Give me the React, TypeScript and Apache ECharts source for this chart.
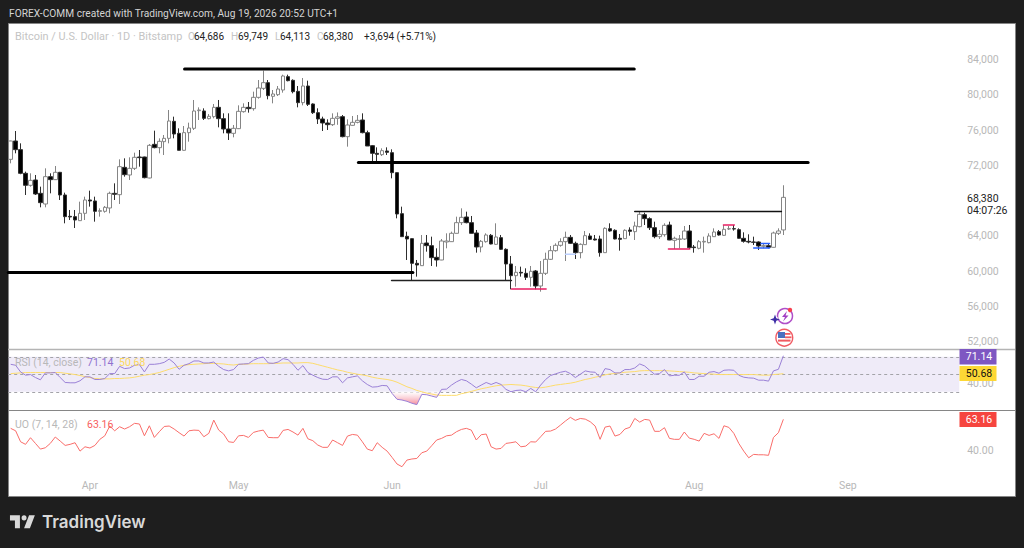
import React, { useEffect, useRef } from "react";
import * as echarts from "echarts";

const candleOpen = [72688,74765,73783,71102,69742,70346,68835,67627,70724,70384,71215,68647,66230,66192,65738,66569,68080,67966,66796,66796,67174,68835,68684,71781,70913,71668,72953,72953,70573,74387,74010,74690,75067,76994,75634,73708,75710,76201,78202,78165,77296,77522,78580,77296,76125,75634,76163,78089,78580,78429,79713,80733,81375,79827,80015,80544,82055,81640,80393,79109,80997,78958,77976,77258,76805,76616,77334,77522,75256,76540,76880,77145,75709,74236,73367,73216,73632,73443,71177,66531,63963,63699,60903,60639,63207,62905,61583,61281,63320,63358,64303,65511,66154,65511,64341,62754,63358,64076,63056,63811,62490,60828,59506,59884,59770,59317,60035,58335,59770,61357,62339,62943,63358,63849,63169,62112,63019,64000,63661,63661,62112,64831,64642,63736,63698,64680,64491,65058,66418,65965,64945,63925,64152,65247,63510,63623,63661,64567,62754,62603,63320,63245,63925,64491,64076,64794,64831,64718,63736,63396,63320,63320,62830,62905,62717,64303,64686];
const candleClose = [74765,73783,71102,69742,70308,68760,67778,70724,70384,71215,68647,66192,66155,65814,66569,68080,67966,66796,66871,67249,68835,68722,71857,70951,71668,72915,72877,70611,74274,74010,74728,75067,77031,75558,73708,75710,76238,78165,78278,77334,77560,78580,77296,76125,75672,76201,78127,78580,78429,79713,80771,81375,79902,80091,80657,82130,81602,80355,79109,80997,78920,77976,77258,76805,76616,77334,77500,75256,76578,76880,77107,75709,74198,73367,73254,73670,73481,71177,66493,63925,63661,60903,60714,63169,62905,61545,61281,63434,63434,64303,65511,66116,65511,64303,62754,63396,64114,63094,63887,62490,60828,59506,59884,59808,59317,59997,58335,59770,61357,62339,62943,63358,63849,63169,62112,63056,64038,63623,63547,62112,64869,64567,63661,63623,64642,64530,65134,66456,65965,64945,63925,64190,65209,63547,63736,63661,64567,62679,62679,63358,63396,64000,64454,64114,64756,64831,64794,63736,63396,63320,63283,62867,62905,62717,64340,64567,68380];
const candleHigh = [74800,75898,74501,71290,71102,70913,69591,71668,71102,71933,71260,68911,66947,66947,67891,68458,69138,68458,67136,67400,69024,69968,72688,72801,72915,73443,73745,72990,74425,75936,75067,75445,78278,77522,76201,76465,76843,79411,78580,78467,77825,78958,79411,77900,77900,76578,78807,79033,79184,80355,81677,82735,81677,80544,80997,82282,82282,81753,80997,81904,81602,79033,78467,77522,77220,77900,78000,77711,77220,77598,77711,77900,75936,74312,74047,73934,74047,73821,71200,67324,64491,63720,61281,64114,64114,63925,62603,63661,64303,64491,66191,67135,66758,66267,64680,63547,64303,64227,65436,64114,62603,61734,60601,60526,60337,60601,60148,61168,62112,62867,63169,63736,64491,64114,63358,63170,64567,64303,64114,64038,64983,65436,64756,64227,64756,64983,65625,66758,66644,66116,65625,64680,65436,65625,63925,64114,65134,65247,62981,63547,63925,64303,64869,64680,65247,65134,65247,64869,64416,64190,63925,63396,63094,63094,64491,64869,69749];
const candleLow = [72235,73368,71000,68647,69591,68647,67249,67249,68835,70346,68080,65436,65814,64907,65700,65814,67325,65625,66192,66645,66569,68080,67627,70724,70346,71479,71857,70535,70535,73934,73368,73179,74501,75067,73700,73670,74690,76012,77145,77145,77220,77334,76314,75634,74879,75181,76120,77976,77976,78202,79562,80544,79487,79033,79864,80242,81526,80166,78580,78807,78731,77825,76692,75898,76012,76465,76600,75180,74123,76500,76767,75634,74198,72423,72423,73065,73179,70535,66002,63900,61281,59015,59393,60600,62225,60601,60526,61260,62603,63340,64290,65247,65436,64290,62112,62150,63245,63056,62981,62414,59015,57957,58259,59393,59015,58259,57957,57693,59582,61281,62225,62792,61168,63094,61394,61470,62981,63547,63500,61659,62100,64491,63623,62339,63680,64038,63547,64983,65247,64680,63736,63661,63925,63530,62528,62603,63547,62528,62112,62490,62112,63170,63900,64038,64000,64680,64605,63698,63245,63170,62981,62414,62603,62603,62679,64114,64113];

const rsiValues = [61.4,60.3,52.7,49,49.7,46.3,43.7,51.6,51.6,52,46.3,40.7,40.3,40.3,42.6,47.1,47.1,44.1,44.1,45.2,50.8,50.8,59.1,56.5,57.2,60.3,61,52.7,61.4,61.4,62.1,63.6,67.4,62.9,55.7,60.3,62.1,65.2,65.2,62.9,62.9,64,59.1,55.4,53.9,55.4,61.4,61.8,62.1,65.9,68.5,69.7,62.9,62.5,64,67.8,66.7,61.4,54.6,59.9,52,49,46.3,44.4,44.1,47.1,47.1,40.3,45.9,47.1,48.2,42.6,38.4,35.4,35.8,37.3,36.9,28.2,21.5,20.7,19.2,17,15.4,27.1,26.7,25.2,23.7,32.8,33.1,37.7,41.4,44.1,42.6,38.8,34.6,37.7,40.7,38.4,40.7,38.4,32.8,30.1,31.6,32,30.1,33.9,30.1,37.7,44.1,48.6,50.5,52.3,53.5,50.8,46.3,50.1,53.9,52.7,52.3,46.3,56.5,55.4,51.6,51.6,55.4,55.4,57.2,61.8,59.5,54.6,50.1,50.8,55.4,48.2,48.9,48.9,52.7,44.1,44.1,47.8,47.8,52.3,53.1,51.2,54.6,55,54.6,48.9,46.7,45.9,45.6,43.3,43.3,42.2,53.9,55.7,71.14];
const rsiAverage = [50.8,51.2,51.6,52,52,52,52,52,52,52,52,51.2,50.5,49.7,48.6,47.4,46.3,45.2,44.8,44.8,44.8,45.2,45.2,45.6,45.9,46.7,47.8,49,49.7,50.8,52,53.9,55.7,57.6,59.1,60.3,61,61.4,61.8,62.1,62.5,62.5,62.1,61.8,61,60.6,61.4,61.4,61.8,62.1,62.1,62.1,62.1,62.5,62.5,62.9,62.9,62.9,62.9,63.3,63.3,62.5,61,59.5,58,56.5,55,53.9,52.3,51.2,50.1,49.3,48.2,46.7,45.6,44.8,44.1,42.9,41,38.4,35.8,33.9,31.6,30.1,28.6,27.5,26.4,26,26,26,26,27.9,29,30.5,32,33.5,34.6,35.8,36.9,37.7,38,38.4,38,37.7,36.9,35.8,35,34.6,35.4,36.5,37.7,38.4,39.2,39.9,41,42.6,44.1,45.2,46.7,47.8,49.3,50.5,50.8,51.6,52.3,52.7,53.1,53.9,54.2,54.2,54.2,54.2,54.2,53.9,53.5,53.1,52.7,52.3,51.6,51.2,50.8,50.5,50.1,49.7,49.7,49.7,49.7,49.7,49.7,49.7,49.7,49.3,49,49,49.7,50.1,50.68];
const uoValues = [56.5,54.7,46.6,44.7,49.6,45.4,41.2,42.2,45.4,50.1,47.1,43.9,44.7,45.9,39.7,42.9,42,43.9,48.4,51,58.2,54.7,57.7,56,57.7,60.2,59.7,51,58.4,49.8,54,57.9,58.2,56,53.3,50.8,54.7,55.2,55,50.3,52.8,62.6,55.2,52.3,46.6,46.1,51,51.3,49.8,53.5,54.5,55.2,49.8,49.6,49.6,55,55.7,53.8,51.5,56.5,48.8,47.4,44.2,42.5,42.5,47.9,45.9,43.9,50.8,52,51.5,46.6,41.2,40,45.9,42.5,39.7,35.1,30.2,28.2,33.1,33.9,34.3,38.5,39.7,43.7,47.9,49.1,51,51.5,54,55.7,56.5,55.2,47.9,51.8,52.3,42.9,41.2,41.7,45.4,45.9,46.6,42.9,43.4,46.6,46.4,50.3,54.3,54.5,56,58.9,61.9,64.6,62.4,63.8,63.3,61.4,58.2,48.4,57.4,58.2,50.8,52,56,57.2,63.8,61.1,63.1,62.6,54.3,54.3,57,49.1,48.4,48.4,53.8,49.3,48.4,47.1,52.8,51.3,52.5,49.1,58.4,57.2,52.8,45.4,39.7,34.8,37.3,37,37,36.6,49.8,53.3,63.16];

const priceTicks = [52000,56000,60000,64000,72000,76000,80000,84000];
const monthNames = ["Jan","Feb","Mar","Apr","May","Jun","Jul","Aug","Sep"];
const segStart = [35.1,70.2,-0.5,76.9,101.1,126,132.8,143.9,150,151.5,112];
const segEnd = [125.9,161,81.2,101.1,108.1,155.6,137.1,146.1,153.2,153.2,114];
const segPrice = [82923,72329,59864,58957,57994,66776,62527,65247,62640,63150,61927];
const segColor = ["#000","#000","#000","#222","#e91e63","#111","#e91e63","#e91e63","#2962ff","#2962ff","#bbd0ff"];
const segWidth = [3,3,3,1.5,1.5,1.5,1.5,1.5,1.5,1.5,1.5];

const BAND_COUNT = 192;
const LEFT = 8.2;
const W = 951;
const FONT = "Roboto, sans-serif";
const LOGO_D = "M14 6H2v6h6v9h6V6Zm12 15h-7l6-15h7l-6 15Zm-7-9a3 3 0 1 0 0-6 3 3 0 0 0 0 6Z";

echarts.graphic.registerShape("tvlogo", echarts.graphic.extendPath(LOGO_D as any, {}) as any);

function dateCategories(): string[] {
  const out: string[] = [];
  const d = new Date(Date.UTC(2026, 2, 16));
  for (let i = 0; i < BAND_COUNT; i++) {
    out.push(d.toISOString().slice(0, 10));
    d.setUTCDate(d.getUTCDate() + 1);
  }
  return out;
}

function txt(x: number, y: number, text: string, fill: string, size = 10, align = "left", extra: any = {}) {
  return { type: "text", x, y, z: 100, style: { text, fill, font: `${extra.weight || "normal"} ${size}px ${extra.family || FONT}`, textAlign: align, textVerticalAlign: "middle" } };
}
function tag(y0: number, y1: number, fill: string, text: string, textFill: string) {
  return [
    { type: "rect", z: 99, shape: { x: 959.5, y: y0, width: 37, height: y1 - y0 }, style: { fill } },
    txt(979, (y0 + y1) / 2, text, textFill, 10.5, "center"),
  ];
}

export default function App() {
  const ref = useRef<HTMLDivElement>(null);
  useEffect(() => {
    const chart = echarts.init(ref.current!, undefined, { renderer: "svg" });
    const cats = dateCategories();
    const hidden = { show: false };
    const xBase = {
      type: "category" as const,
      data: cats,
      boundaryGap: true,
      axisLine: hidden,
      axisTick: hidden,
      splitLine: hidden,
    };
    const oversold = rsiValues.map((v) => Math.min(v, 30));
    const segSeries = segStart.map((s, i) => ({
      type: "line" as const,
      xAxisIndex: 3,
      yAxisIndex: 0,
      z: 6,
      silent: true,
      showSymbol: false,
      symbol: "none",
      clip: true,
      data: [[s, segPrice[i]], [segEnd[i], segPrice[i]]],
      lineStyle: { color: segColor[i], width: segWidth[i], cap: "round" as const },
    }));
    const dashed = { color: "#a3a3a8", type: [3, 3] as any, width: 1 };
    chart.setOption({
      animation: false,
      backgroundColor: "#1e1e1e",
      textStyle: { fontFamily: FONT },
      grid: [
        { left: LEFT, width: W, top: 24, height: 325, containLabel: false },
        { left: LEFT, width: W, top: 350, height: 60 },
        { left: LEFT, width: W, top: 411, height: 61 },
      ],
      xAxis: [
        { ...xBase, gridIndex: 0, axisLabel: hidden },
        { ...xBase, gridIndex: 1, axisLabel: hidden },
        {
          ...xBase,
          gridIndex: 2,
          axisLabel: {
            show: true,
            margin: 8,
            color: "#b8b8b8",
            fontSize: 10.5,
            fontFamily: FONT,
            interval: (_: number, v: string) => v.endsWith("-01"),
            formatter: (v: string) => monthNames[Number(v.slice(5, 7)) - 1],
          },
        },
        { type: "value", gridIndex: 0, min: -0.5, max: BAND_COUNT - 0.5, show: false },
      ],
      yAxis: [
        {
          type: "value", gridIndex: 0, position: "right", min: 51195, max: 88023, scale: true,
          axisLine: hidden, axisTick: hidden, splitLine: hidden,
          axisLabel: {
            margin: 8, color: "#b8b8b8", fontSize: 10.5, fontFamily: FONT,
            customValues: priceTicks,
            formatter: (v: number) => v.toLocaleString("en-US"),
          },
        },
        {
          type: "value", gridIndex: 1, position: "right", min: 9.3, max: 77.7,
          axisLine: hidden, axisTick: hidden, splitLine: hidden,
          axisLabel: { margin: 8, color: "#b8b8b8", fontSize: 10.5, fontFamily: FONT, customValues: [40], formatter: (v: number) => v.toFixed(2) },
        },
        {
          type: "value", gridIndex: 2, position: "right", min: 24.3, max: 69.3,
          axisLine: hidden, axisTick: hidden, splitLine: hidden,
          axisLabel: { margin: 8, color: "#b8b8b8", fontSize: 10.5, fontFamily: FONT, customValues: [40], formatter: (v: number) => v.toFixed(2) },
        },
      ],
      series: [
        {
          type: "candlestick",
          xAxisIndex: 0,
          yAxisIndex: 0,
          z: 4,
          barWidth: 4,
          data: candleOpen.map((o, i) => [o, candleClose[i], candleLow[i], candleHigh[i]]),
          itemStyle: { color: "#ffffff", color0: "#000000", borderColor: "#858585", borderColor0: "#2e2e2e", borderWidth: 1 },
        },
        ...segSeries,
        {
          type: "line", xAxisIndex: 1, yAxisIndex: 1, z: 3, silent: true, showSymbol: false, symbol: "none",
          data: oversold,
          lineStyle: { width: 0, opacity: 0 },
          areaStyle: {
            origin: 30,
            opacity: 1,
            color: { type: "linear", x: 0, y: 0, x2: 0, y2: 1, colorStops: [{ offset: 0, color: "rgba(255,255,255,0.6)" }, { offset: 1, color: "rgba(242,120,140,0.85)" }] },
          },
        },
        {
          type: "line", xAxisIndex: 1, yAxisIndex: 1, z: 4, silent: true, showSymbol: false, symbol: "none",
          data: rsiAverage,
          lineStyle: { color: "#fddc6c", width: 1 },
        },
        {
          type: "line", xAxisIndex: 1, yAxisIndex: 1, z: 5, silent: true, showSymbol: false, symbol: "none",
          data: rsiValues,
          lineStyle: { color: "#9a80d6", width: 1 },
          markArea: {
            silent: true,
            z: 1,
            itemStyle: { color: "rgba(126,87,194,0.12)" },
            data: [[{ yAxis: 70, x: LEFT }, { yAxis: 30, x: LEFT + W }]],
          },
          markLine: {
            silent: true,
            symbol: "none",
            label: { show: false },
            z: 2,
            lineStyle: dashed,
            data: [{ yAxis: 70 }, { yAxis: 50 }, { yAxis: 30 }],
          },
        },
        {
          type: "line", xAxisIndex: 2, yAxisIndex: 2, z: 5, silent: true, showSymbol: false, symbol: "none",
          data: uoValues,
          lineStyle: { color: "#f96d6a", width: 1 },
        },
      ],
      graphic: {
        elements: [
          { type: "rect", z: -10, shape: { x: 8.5, y: 23.5, width: 1007, height: 473 }, style: { fill: "#ffffff", stroke: "#868686", lineWidth: 1 } },
          { type: "line", z: 1, shape: { x1: 8, y1: 349.5, x2: 1015, y2: 349.5 }, style: { stroke: "#b4b4b4", lineWidth: 1.6 } },
          { type: "line", z: 1, shape: { x1: 8, y1: 410.5, x2: 1015, y2: 410.5 }, style: { stroke: "#868686", lineWidth: 1 } },
          txt(9, 13, "FOREX-COMM created with TradingView.com, Aug 19, 2026 20:52 UTC+1", "#d4d4d4", 10.2),
          txt(15, 36, "Bitcoin / U.S. Dollar · 1D · Bitstamp", "#c4c4c4", 10.9),
          txt(188, 36, "O", "#c4c4c4", 10), txt(194, 36, "64,686", "#222222", 10),
          txt(231, 36, "H", "#c4c4c4", 10), txt(238, 36, "69,749", "#222222", 10),
          txt(275, 36, "L", "#c4c4c4", 10), txt(280, 36, "64,113", "#222222", 10),
          txt(317, 36, "C", "#c4c4c4", 10), txt(323, 36, "68,380", "#222222", 10),
          txt(364, 36, "+3,694 (+5.71%)", "#222222", 10),
          txt(15, 362, "RSI (14, close)", "#b8b8b8", 10.5),
          txt(87, 362, "71.14", "#8f72cf", 10.5),
          txt(119, 362, "50.68", "#fdd85d", 10.5),
          txt(15, 424, "UO (7, 14, 28)", "#b8b8b8", 10.5),
          txt(87, 424, "63.16", "#f7605e", 10.5),
          txt(967, 198, "68,380", "#222222", 10.5),
          txt(967, 210, "04:07:26", "#222222", 10.5),
          ...tag(349, 364.5, "#7e57c2", "71.14", "#ffffff"),
          ...tag(366, 381, "#fdd835", "50.68", "#111111"),
          ...tag(412, 427, "#f6453f", "63.16", "#ffffff"),
          { type: "tvlogo", x: 8.3, y: 510, scaleX: 0.83, scaleY: 0.87, z: 100, style: { fill: "#d9d9d9" } },
          txt(42, 522, "TradingView", "#d9d9d9", 17, "left", { weight: "600", family: "Inter, sans-serif" }),
          { type: "arc", z: 100, shape: { cx: 785, cy: 316, r: 7.5, startAngle: 0, endAngle: Math.PI * 2 }, style: { stroke: "#b04fc8", lineWidth: 1.5, fill: "none" } },
          { type: "circle", z: 100, shape: { cx: 775, cy: 319.5, r: 3.4 }, style: { fill: "#ffffff" } },
          { type: "polygon", z: 101, shape: { points: [[775, 314.5], [776.3, 318.2], [780, 319.5], [776.3, 320.8], [775, 324.5], [773.7, 320.8], [770, 319.5], [773.7, 318.2]] }, style: { fill: "#3d2ea5" } },
          { type: "polygon", z: 101, shape: { points: [[787, 311], [782, 317], [785, 317], [783, 321.5], [788.5, 315.5], [785.5, 315.5]] }, style: { fill: "#a23fc4" } },
          { type: "circle", z: 102, shape: { cx: 790, cy: 310, r: 2.2 }, style: { fill: "#f6404f" } },
          { type: "circle", z: 100, shape: { cx: 784.3, cy: 337.7, r: 8.4 }, style: { fill: "#ffffff", stroke: "#f05a62", lineWidth: 1.4 } },
          { type: "rect", z: 101, shape: { x: 778, y: 332, width: 7, height: 6 }, style: { fill: "#4a6fc0" } },
          { type: "rect", z: 101, shape: { x: 785, y: 333, width: 5.5, height: 1.8 }, style: { fill: "#f05a62" } },
          { type: "rect", z: 101, shape: { x: 785, y: 336.4, width: 6.5, height: 1.8 }, style: { fill: "#f05a62" } },
          { type: "rect", z: 101, shape: { x: 778, y: 339.6, width: 12.5, height: 2 }, style: { fill: "#f05a62" } },
        ],
      },
    });
    return () => chart.dispose();
  }, []);
  return <div ref={ref} style={{ position: "fixed", left: 0, top: 0, width: 1024, height: 548 }} />;
}
